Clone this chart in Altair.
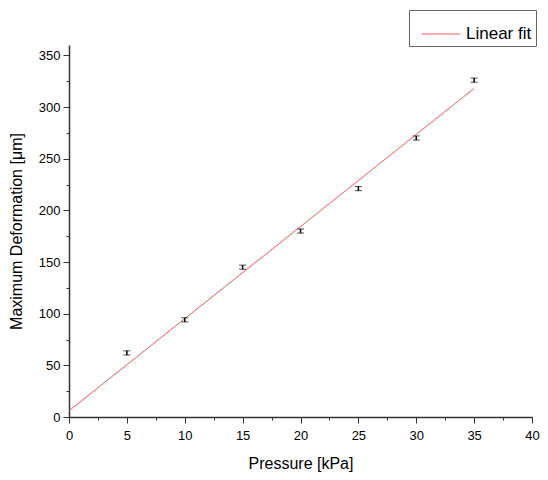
import altair as alt
import pandas as pd

pressure = [5, 10, 15, 20, 25, 30, 35]
deformation = [62, 94, 145, 180, 221, 270, 326]
err = [2, 2, 2, 2, 2, 2, 2]
fit_x = [0, 35]
fit_y = [6, 318]

df = pd.DataFrame({"p": pressure, "d": deformation, "e": err})
df["lo"] = df["d"] - df["e"]
df["hi"] = df["d"] + df["e"]
fit = pd.DataFrame({"p": fit_x, "d": fit_y, "series": ["Linear fit"] * 2})

FONT = "Liberation Sans"
xscale = alt.Scale(domain=[0, 40], nice=False)
yscale = alt.Scale(domain=[0, 360], nice=False)

xmaj = alt.Axis(values=list(range(0, 45, 5)), title="Pressure [kPa]", grid=False,
                tickSize=6, labelFontSize=13, titleFontSize=16, labelFont=FONT, titleFont=FONT,
                titleFontWeight="normal", domainColor="#333", tickColor="#333", domainWidth=1.5,
                labelColor="black", titleColor="black", titlePadding=13, orient="bottom",
                labelPadding=6, labelFlush=False, labelOverlap=False)
ymaj = alt.Axis(values=list(range(0, 351, 50)), title="Maximum Deformation [μm]", grid=False,
                tickSize=6, labelFontSize=13, titleFontSize=16, labelFont=FONT, titleFont=FONT,
                titleFontWeight="normal", domainColor="#333", tickColor="#333", domainWidth=1.5,
                labelColor="black", titleColor="black", titlePadding=14, orient="left",
                labelPadding=3, labelFlush=False, labelOverlap=False)
xmin = alt.Axis(values=[i * 2.5 for i in range(17)], title=None, labels=False, grid=False,
                tickSize=3, domain=False, tickColor="#333", orient="bottom")
ymin = alt.Axis(values=list(range(0, 351, 25)), title=None, labels=False, grid=False,
                tickSize=3, domain=False, tickColor="#333", orient="left")

line = alt.Chart(fit).mark_line(strokeWidth=1, clip=True).encode(
    x=alt.X("p:Q", scale=xscale, axis=xmaj),
    y=alt.Y("d:Q", scale=yscale, axis=ymaj),
    color=alt.Color("series:N", scale=alt.Scale(range=["#f05a5a"]),
                    legend=alt.Legend(title=None, orient="none", legendX=340, legendY=-35,
                                      symbolType="stroke", symbolSize=1500, symbolStrokeWidth=1,
                                      symbolOffset=8, labelOffset=5,
                                      labelFontSize=17, labelFont=FONT, labelColor="black",
                                      strokeColor="#666", padding=4, fillColor="white")),
)

bars = alt.Chart(df).mark_rule(color="black", strokeWidth=1.5).encode(
    x=alt.X("p:Q", scale=xscale, axis=xmin),
    y=alt.Y("lo:Q", scale=yscale, axis=ymin),
    y2="hi:Q",
)
caps_lo = alt.Chart(df).mark_tick(color="black", size=7, thickness=1, orient="horizontal").encode(
    x=alt.X("p:Q", scale=xscale, axis=None), y=alt.Y("lo:Q", scale=yscale, axis=None))
caps_hi = alt.Chart(df).mark_tick(color="black", size=7, thickness=1, orient="horizontal").encode(
    x=alt.X("p:Q", scale=xscale, axis=None), y=alt.Y("hi:Q", scale=yscale, axis=None))

chart = alt.layer(line, bars, caps_lo, caps_hi).resolve_axis(x="independent", y="independent").properties(
    width=463, height=372,
    autosize=alt.AutoSizeParams(type="none"),
    padding={"left": 61, "top": 37, "right": 8, "bottom": 55},
).configure_view(stroke=None)

chart.save("out.html", embed_options={"renderer": "svg", "actions": False})
